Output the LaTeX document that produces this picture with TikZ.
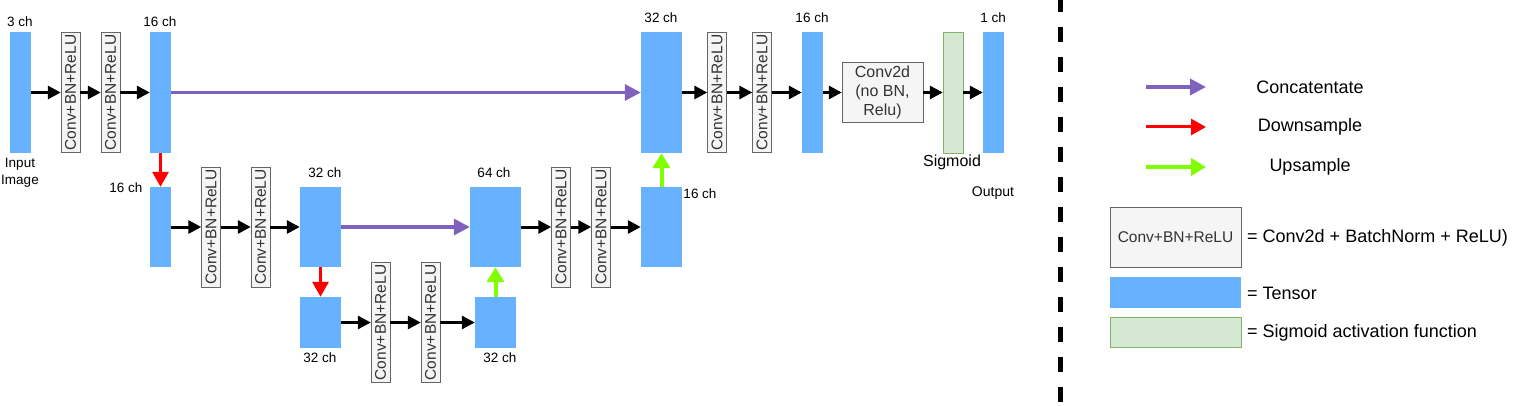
\documentclass[tikz,border=0pt]{standalone}
\usepackage{fontspec}
\setmainfont{Liberation Sans}
\usepackage{xcolor}
\usepackage{tikz}
\usetikzlibrary{arrows.meta, positioning, calc}

\definecolor{tensorblue}{HTML}{66B2FF}
\definecolor{convfill}{HTML}{F5F5F5}
\definecolor{convdraw}{HTML}{666666}
\definecolor{sigfill}{HTML}{D5E8D4}
\definecolor{sigdraw}{HTML}{82B366}
\definecolor{catpurple}{HTML}{7E62BD}
\definecolor{downred}{HTML}{FF0000}
\definecolor{upgreen}{HTML}{80FF00}

\begin{document}
\begin{tikzpicture}[
    x=1pt, y=-1pt,
    tensor/.style={rectangle, fill=tensorblue, inner sep=0pt},
    conv/.style={rectangle, draw=convdraw, fill=convfill, text=black!80, rotate=90, minimum width=120pt, minimum height=19pt, inner sep=0pt, font=\fontsize{15.5}{18}\selectfont},
    sigbox/.style={rectangle, draw=sigdraw, fill=sigfill, inner sep=0pt},
    chlabel/.style={font=\fontsize{13.5}{17}\selectfont, inner sep=0pt, align=center},
    legtext/.style={font=\fontsize{18}{21}\selectfont, inner sep=0pt},
    flow/.style={-{Triangle[length=13pt, width=13pt]}, line width=3pt},
    concat/.style={-{Triangle[length=16pt, width=16pt]}, line width=3.5pt, catpurple},
    down/.style={-{Triangle[length=15pt, width=16pt]}, line width=3pt, downred},
    up/.style={-{Triangle[length=15pt, width=17pt]}, line width=4pt, upgreen}
]
\useasboundingbox (0,0) rectangle (1536,406);

% encoder, level 1
\node[tensor, minimum width=21pt, minimum height=121pt] (img) at (20.5,92.5) {};
\node[conv] (c1) at (70.5,92.5) {Conv+BN+ReLU};
\node[conv] (c2) at (110.5,92.5) {Conv+BN+ReLU};
\node[tensor, minimum width=21pt, minimum height=121pt] (e16) at (160.5,92.5) {};

% encoder, level 2
\node[tensor, minimum width=21pt, minimum height=80pt] (d16) at (160.5,227) {};
\node[conv] (c3) at (211,227) {Conv+BN+ReLU};
\node[conv] (c4) at (260.5,227) {Conv+BN+ReLU};
\node[tensor, minimum width=41pt, minimum height=80pt] (e32) at (320.5,227) {};

% bottleneck
\node[tensor, minimum width=41pt, minimum height=51pt] (d32) at (320.5,322.5) {};
\node[conv] (c5) at (380.5,322.5) {Conv+BN+ReLU};
\node[conv] (c6) at (430.5,322.5) {Conv+BN+ReLU};
\node[tensor, minimum width=41pt, minimum height=51pt] (b32) at (495.5,322.5) {};

% decoder, level 2
\node[tensor, minimum width=51pt, minimum height=80pt] (u64) at (495.5,227) {};
\node[conv] (c9) at (561,227) {Conv+BN+ReLU};
\node[conv] (c10) at (601,227) {Conv+BN+ReLU};
\node[tensor, minimum width=41pt, minimum height=80pt] (u16) at (661.5,227) {};

% decoder, level 1
\node[tensor, minimum width=41pt, minimum height=121pt] (u32) at (661.5,92.5) {};
\node[conv] (c7) at (717,92.5) {Conv+BN+ReLU};
\node[conv] (c8) at (762,92.5) {Conv+BN+ReLU};
\node[tensor, minimum width=21pt, minimum height=121pt] (o16) at (812.5,92.5) {};
\node[rectangle, draw=convdraw, fill=convfill, text=black!80, minimum width=81pt, minimum height=60pt, inner sep=0pt, align=center, font=\fontsize{16}{19}\selectfont] (final) at (882.5,92.5) {Conv2d\\(no BN,\\Relu)};
\node[sigbox, minimum width=20pt, minimum height=121pt] (sig) at (953,92.5) {};
\node[tensor, minimum width=21pt, minimum height=121pt] (out) at (993.5,92.5) {};

% channel labels
\node[chlabel] (l3) at (20,22) {3 ch};
\node[chlabel] (limg) at (20,173) {Input\\Image};
\node[chlabel] (le16) at (160,22) {16 ch};
\node[chlabel] (ld16) at (126,188) {16 ch};
\node[chlabel] (le32) at (325,173) {32 ch};
\node[chlabel] (ld32) at (320,358) {32 ch};
\node[chlabel] (lb32) at (500,358) {32 ch};
\node[chlabel] (lu64) at (494,173) {64 ch};
\node[chlabel] (lu16) at (700,194) {16 ch};
\node[chlabel] (lu32) at (661,18) {32 ch};
\node[chlabel] (lo16) at (812,18) {16 ch};
\node[chlabel] (lout1) at (993,18) {1 ch};
\node[chlabel, font=\fontsize{16}{19}\selectfont] (lsig) at (952,162) {Sigmoid};
\node[chlabel, font=\fontsize{14}{17}\selectfont] (lout) at (993,193) {Output};

\draw[flow] (img) -- (c1);
\draw[flow] (c1) -- (c2);
\draw[flow] (c2) -- (e16);
\draw[flow] (d16) -- (c3);
\draw[flow] (c3) -- (c4);
\draw[flow] (c4) -- (e32);
\draw[flow] (d32) -- (c5);
\draw[flow] (c5) -- (c6);
\draw[flow] (c6) -- (b32);
\draw[flow] (u64) -- (c9);
\draw[flow] (c9) -- (c10);
\draw[flow] (c10) -- (u16);
\draw[flow] (u32) -- (c7);
\draw[flow] (c7) -- (c8);
\draw[flow] (c8) -- (o16);
\draw[flow] (o16) -- (final);
\draw[flow] (final) -- (sig);
\draw[flow] (sig) -- (out);

\draw[down] (e16) -- (d16);
\draw[down] (e32) -- (d32);
\draw[up] (b32) -- (u64);
\draw[up] (u16) -- (u32);
\draw[concat] (e16) -- (u32);
\draw[concat] (e32) -- (u64);

% separator and legend
\coordinate (sepT) at (1060.5,-3);
\coordinate (sepB) at (1060.5,406);
\draw[line width=5pt, dash pattern=on 15pt off 15pt] (sepT) -- (sepB);

\coordinate (catS) at (1146,87);
\coordinate (catE) at (1206,87);
\coordinate (dnS) at (1146,127);
\coordinate (dnE) at (1206,127);
\coordinate (upS) at (1146,167);
\coordinate (upE) at (1206,167);
\draw[concat] (catS) -- (catE);
\draw[down] (dnS) -- (dnE);
\draw[up] (upS) -- (upE);
\node[legtext] (tcat) at (1310,87) {Concatentate};
\node[legtext] (tdn) at (1310,127) {Downsample};
\node[legtext] (tup) at (1310,167) {Upsample};

\node[rectangle, draw=convdraw, fill=convfill, text=black!80, minimum width=131pt, minimum height=60pt, inner sep=0pt, font=\fontsize{15.5}{18}\selectfont] (kconv) at (1175.5,237) {Conv+BN+ReLU};
\node[tensor, minimum width=131pt, minimum height=31pt] (ktensor) at (1175.5,292.5) {};
\node[sigbox, minimum width=131pt, minimum height=30pt] (ksig) at (1175.5,332) {};
\node[legtext, anchor=west] (tconv) at (1247,238) {= Conv2d + BatchNorm + ReLU)};
\node[legtext, anchor=west] (ttensor) at (1247,293) {= Tensor};
\node[legtext, anchor=west] (tsig) at (1247,333) {= Sigmoid activation function};

\end{tikzpicture}
\end{document}
